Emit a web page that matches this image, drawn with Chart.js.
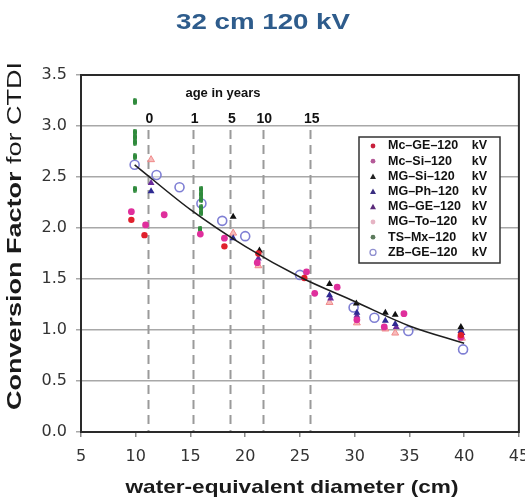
<!DOCTYPE html>
<html><head><meta charset="utf-8">
<script src="https://cdn.jsdelivr.net/npm/chart.js@4/dist/chart.umd.min.js"></script>
<style>html,body{margin:0;padding:0;background:#fff;}#c{display:block}</style>
</head><body>
<canvas id="c" width="525" height="502"></canvas>
<script>
// ---- data ----
const titleText = '32 cm 120 kV';
const xTitle = 'water-equivalent diameter (cm)';
const yTitleBold = 'Conversion Factor ';
const yTitleRegular = 'for CTDI';
const xTickValues = [5, 10, 15, 20, 25, 30, 35, 40, 45];
const yTickValues = [0, 0.5, 1.0, 1.5, 2.0, 2.5, 3.0, 3.5];
const ageTitle = 'age in years';
const ageLabels = ['0', '1', '5', '10', '15'];
const ageDiameters = [11.1, 15.25, 18.65, 21.6, 25.95];

const seriesLabels = ['Mc–GE–120 kV', 'Mc–Si–120  kV', 'MG–Si–120  kV', 'MG–Ph–120 kV',
                      'MG–GE–120 kV', 'MG–To–120  kV', 'TS–Mx–120   kV', 'ZB–GE–120   kV'];
const mcGE = [[9.6,2.08],[10.8,1.93],[18.1,1.82],[21.2,1.75],[25.4,1.51],[39.7,0.95]];
const mcSi = [[9.6,2.16],[10.9,2.03],[12.6,2.13],[15.9,1.94],[18.1,1.90],[21.1,1.66],[25.6,1.57],
              [26.35,1.36],[28.4,1.42],[30.2,1.10],[32.7,1.03],[34.5,1.16],[39.7,0.93]];
const mgSi = [[18.9,2.11],[21.3,1.78],[27.7,1.45],[30.15,1.26],[32.8,1.17],[33.7,1.15],[39.7,1.03]];
const mgPh = [[11.4,2.36],[18.9,1.90],[27.7,1.34],[30.2,1.17],[32.8,1.09],[33.7,1.06],[39.7,0.99]];
const mgGE = [[11.4,2.44],[21.2,1.70],[27.8,1.31],[30.2,1.14],[33.8,1.03],[39.8,0.97]];
const mgTo = [[11.4,2.67],[18.9,1.95],[21.2,1.63],[27.7,1.27],[30.2,1.07],[32.8,1.01],[33.7,0.97],[39.8,0.92]];
const tsMx = [[9.9,3.24],[9.9,2.94],[9.9,2.89],[9.9,2.84],[9.9,2.70],[9.9,2.38],
              [16.0,2.38],[16.0,2.33],[16.0,2.28],[16.0,2.20],[16.0,2.15],[15.9,1.99]];
const zbGE = [[9.9,2.62],[11.9,2.52],[14.0,2.40],[16.0,2.24],[17.9,2.07],[20.0,1.92],
              [25.0,1.54],[29.9,1.22],[31.8,1.12],[34.9,0.99],[39.9,0.81]];
const fitCurve = [[9.9,2.62],[15,2.18],[20,1.82],[25,1.52],[30,1.28],[35,1.04],[40,0.87]];

// ---- styles ----
const FONT = '"Liberation Sans", Arial, Helvetica, sans-serif';
function pill(color, w, h) {
  const c = document.createElement('canvas'); c.width = w; c.height = h;
  const g = c.getContext('2d'); g.fillStyle = color; const r = w / 2;
  g.beginPath(); g.arc(r, r, r, Math.PI, 0); g.lineTo(w, h - r); g.arc(r, h - r, r, 0, Math.PI); g.closePath(); g.fill();
  return c;
}
const toPts = a => a.map(p => ({x: p[0], y: p[1]}));
const styles = [
  {data: mcGE, pointStyle: 'circle', radius: 3.2, bg: '#e0202c', bc: '#e0202c', bw: 0, lg: {shape:'dot', c:'#c8203c'}},
  {data: mcSi, pointStyle: 'circle', radius: 3.4, bg: '#df2f9c', bc: '#df2f9c', bw: 0, lg: {shape:'dot', c:'#b45a98'}},
  {data: mgSi, pointStyle: 'triangle', radius: 4, bg: '#111111', bc: '#111111', bw: 0, lg: {shape:'tri', c:'#222'}},
  {data: mgPh, pointStyle: 'triangle', radius: 4, bg: '#2e2a92', bc: '#2e2a92', bw: 0, lg: {shape:'tri', c:'#3a2e80'}},
  {data: mgGE, pointStyle: 'triangle', radius: 4, bg: '#6a2c9c', bc: '#6a2c9c', bw: 0, lg: {shape:'tri', c:'#5a2a7a'}},
  {data: mgTo, pointStyle: 'triangle', radius: 4, bg: 'rgba(245,170,170,0.8)', bc: '#f08a8a', bw: 1, lg: {shape:'dot', c:'#e6b4c4'}},
  {data: tsMx, pointStyle: pill('#2f8a3c', 4, 7), radius: 3, bg: '#2f8a3c', bc: '#2f8a3c', bw: 0, lg: {shape:'dot', c:'#5c7a5c'}},
  {data: zbGE, pointStyle: 'circle', radius: 4.5, bg: 'rgba(255,255,255,0.4)', bc: '#7f7fd4', bw: 1.6, lg: {shape:'ring', c:'#9090d0'}}
];

const datasets = styles.map((s, i) => ({
  type: 'scatter', label: seriesLabels[i], data: toPts(s.data),
  pointStyle: s.pointStyle, pointRadius: s.radius, pointBackgroundColor: s.bg,
  pointBorderColor: s.bc, pointBorderWidth: s.bw, showLine: false
}));
datasets.push({
  type: 'line', label: 'fit', data: toPts(fitCurve), borderColor: '#1e1e1e', borderWidth: 1.6,
  pointRadius: 0, tension: 0.4, cubicInterpolationMode: 'monotone', fill: false, order: -1
});

const decor = {
  id: 'decor',
  beforeDatasetsDraw(chart) {
    const {ctx, chartArea: a, scales: {x}} = chart;
    ctx.save();
    ctx.strokeStyle = '#9a9a9a'; ctx.lineWidth = 2; ctx.setLineDash([9, 6]);
    ageDiameters.forEach(d => {
      const px = Math.round(x.getPixelForValue(d)) + 0.5;
      ctx.beginPath(); ctx.moveTo(px, 130); ctx.lineTo(px, a.bottom); ctx.stroke();
    });
    ctx.setLineDash([]);
    ctx.strokeStyle = '#2a2a2a'; ctx.lineWidth = 2;
    ctx.strokeRect(a.left, a.top, a.right - a.left, a.bottom - a.top);
    // age labels
    ctx.fillStyle = '#111'; ctx.textAlign = 'center'; ctx.textBaseline = 'middle';
    ctx.font = 'bold 13px ' + FONT;
    ctx.fillText(ageTitle, 223, 93);
    ctx.font = 'bold 14px ' + FONT;
    ageDiameters.forEach((d, i) => ctx.fillText(ageLabels[i], x.getPixelForValue(d) + 1.5, 119));
    ctx.restore();
  },
  afterDraw(chart) {
    const {ctx} = chart;
    ctx.save();
    // title
    ctx.fillStyle = '#2e5c8c'; ctx.font = 'bold 22px ' + FONT;
    ctx.textBaseline = 'middle'; ctx.textAlign = 'center';
    let w = ctx.measureText(titleText).width;
    ctx.save(); ctx.translate(263, 23); ctx.scale(174 / w, 1); ctx.fillText(titleText, 0, 0); ctx.restore();
    // x title
    ctx.fillStyle = '#1a1a1a'; ctx.font = 'bold 19px ' + FONT;
    w = ctx.measureText(xTitle).width;
    ctx.save(); ctx.translate(292, 488); ctx.scale(333 / w, 1); ctx.fillText(xTitle, 0, 0); ctx.restore();
    // y title (mixed weight)
    ctx.save(); ctx.translate(21, 236); ctx.rotate(-Math.PI / 2);
    ctx.textAlign = 'left'; ctx.textBaseline = 'alphabetic';
    ctx.font = 'bold 20px ' + FONT; const wb = ctx.measureText(yTitleBold).width;
    ctx.font = '20px ' + FONT; const wr = ctx.measureText(yTitleRegular).width;
    const sc = 348 / (wb + wr); ctx.scale(sc, 1);
    const x0 = -(wb + wr) / 2;
    ctx.font = 'bold 20px ' + FONT; ctx.fillText(yTitleBold, x0, 0);
    ctx.font = '20px ' + FONT; ctx.fillText(yTitleRegular, x0 + wb, 0);
    ctx.restore();
    // legend
    const L = 359, T = 137, R = 500, B = 263;
    ctx.fillStyle = '#fff'; ctx.fillRect(L, T, R - L, B - T);
    ctx.strokeStyle = '#333'; ctx.lineWidth = 1.5; ctx.strokeRect(L, T, R - L, B - T);
    ctx.font = 'bold 12.5px ' + FONT; ctx.textBaseline = 'middle';
    styles.forEach((s, i) => {
      const y = 146 + i * 15.2, mx = 373;
      ctx.fillStyle = s.lg.c; ctx.strokeStyle = s.lg.c;
      if (s.lg.shape === 'dot') { ctx.beginPath(); ctx.arc(mx, y, 2.4, 0, Math.PI * 2); ctx.fill(); }
      else if (s.lg.shape === 'tri') { ctx.beginPath(); ctx.moveTo(mx, y - 3); ctx.lineTo(mx + 3, y + 2.5); ctx.lineTo(mx - 3, y + 2.5); ctx.closePath(); ctx.fill(); }
      else { ctx.lineWidth = 1.3; ctx.beginPath(); ctx.arc(mx, y, 3, 0, Math.PI * 2); ctx.stroke(); }
      const lab = seriesLabels[i];
      const k = lab.lastIndexOf(' ');
      ctx.fillStyle = '#111';
      ctx.textAlign = 'left'; ctx.fillText(lab.slice(0, k).trim(), 388, y);
      ctx.textAlign = 'right'; ctx.fillText(lab.slice(k + 1), 487, y);
    });
    ctx.restore();
  }
};

new Chart(document.getElementById('c'), {
  data: {datasets},
  options: {
    responsive: false, animation: false, devicePixelRatio: 1,
    layout: {padding: {top: 75, right: 6, bottom: 0, left: 0}},
    plugins: {legend: {display: false}, tooltip: {enabled: false}, title: {display: false}},
    scales: {
      x: {
        type: 'linear', min: 5, max: 45,
        afterBuildTicks: s => { s.ticks = xTickValues.map(v => ({value: v})); },
        ticks: {color: '#333', padding: 10, font: {family: '"DejaVu Sans", sans-serif', size: 16}, maxRotation: 0, autoSkip: false},
        grid: {drawOnChartArea: false, drawTicks: true, tickLength: 5, color: '#888', lineWidth: 1.5},
        border: {display: false},
        afterFit: s => { s.height = 70; s.paddingLeft = 0; s.paddingRight = 0; }
      },
      y: {
        type: 'linear', min: 0, max: 3.5,
        afterBuildTicks: s => { s.ticks = yTickValues.map(v => ({value: v})); },
        ticks: {color: '#333', padding: 9, font: {family: '"DejaVu Sans", sans-serif', size: 16},
                callback: v => Number(v).toFixed(1)},
        grid: {color: '#a8a8a8', lineWidth: 1.5, tickLength: 5},
        border: {display: false},
        afterFit: s => { s.width = 81; }
      }
    }
  },
  plugins: [decor]
});
</script>
</body></html>
